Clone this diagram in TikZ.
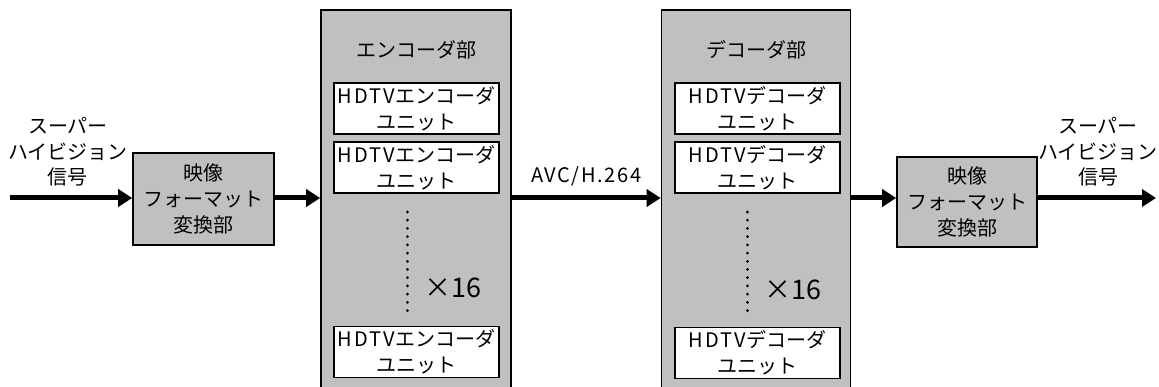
\documentclass[tikz,border=0pt]{standalone}
\usepackage{fontspec}
\setmainfont{Noto Sans CJK JP}
\usetikzlibrary{arrows.meta}
\definecolor{boxgray}{HTML}{C0C0C0}
\newcommand{\lsp}[1]{{\addfontfeature{LetterSpace=10}#1}}
\begin{document}
\begin{tikzpicture}[x=1pt,y=-1pt,
  every node/.style={font=\fontsize{20}{26}\selectfont, inner sep=0pt},
  graybox/.style={draw=black, line width=1.6pt, fill=boxgray, align=center},
  unitbox/.style={draw=black, line width=1.6pt, fill=white, align=center,
    minimum width=165pt, minimum height=51pt, font=\fontsize{20}{26}\selectfont},
  flow/.style={line width=5pt, -{Triangle[length=14pt,width=17pt]}},
  lbl/.style={align=center, font=\fontsize{20}{25.5}\selectfont},
  dots/.style={line width=3pt, dash pattern=on 0.01pt off 8.2pt, line cap=round},
  times/.style={font=\fontsize{27}{30}\selectfont}
]
\useasboundingbox (0,0) rectangle (1159,387);
% converters
\node[graybox, minimum width=141pt, minimum height=92pt] (conv1) at (203.5,199) {映像\\フォーマット\\変換部};
\node[graybox, minimum width=140pt, minimum height=90pt] (conv2) at (967,202) {映像\\フォーマット\\変換部};
% encoder / decoder blocks
\node[graybox, minimum width=190pt, minimum height=400pt, anchor=north] (enc) at (416,9.5) {};
\node[graybox, minimum width=189pt, minimum height=400pt, anchor=north] (dec) at (756,9.5) {};
\node (enct) at (416,50) {エンコーダ部};
\node (dect) at (756,50) {デコーダ部};
% encoder units
\node[unitbox] (e1) at (416.5,108.5) {\lsp{HDTV}エンコーダ\\ユニット};
\node[unitbox] (e2) at (416.5,167.5) {\lsp{HDTV}エンコーダ\\ユニット};
\node[unitbox] (e3) at (416.5,352) {\lsp{HDTV}エンコーダ\\ユニット};
\coordinate (ed1) at (407,212);
\coordinate (ed2) at (407,311);
\draw[dots] (ed1) -- (ed2);
\node[times] (ex) at (453,288) {×16};
% decoder units
\node[unitbox] (d1) at (757.5,108.5) {\lsp{HDTV}デコーダ\\ユニット};
\node[unitbox] (d2) at (757.5,167.5) {\lsp{HDTV}デコーダ\\ユニット};
\node[unitbox] (d3) at (757.5,353) {\lsp{HDTV}デコーダ\\ユニット};
\coordinate (dd1) at (747,212);
\coordinate (dd2) at (747,311);
\draw[dots] (dd1) -- (dd2);
\node[times] (dx) at (793,290) {×16};
% labels
\node[lbl] (inl) at (68,152) {スーパー\\ハイビジョン\\信号};
\node[lbl] (outl) at (1098,152) {スーパー\\ハイビジョン\\信号};
% arrows
\coordinate (in) at (10,198);
\coordinate (out) at (1156,198);
\draw[flow] (in) -- (in -| conv1.west);
\draw[flow] (conv1.east |- in) -- (in -| enc.west);
\draw[flow] (enc.east |- in) -- node[above=9pt] (avc) {{\addfontfeature{LetterSpace=8}AVC/H.264}} (in -| dec.west);
\draw[flow] (dec.east |- in) -- (in -| conv2.west);
\draw[flow] (conv2.east |- in) -- (out);
\end{tikzpicture}
\end{document}
